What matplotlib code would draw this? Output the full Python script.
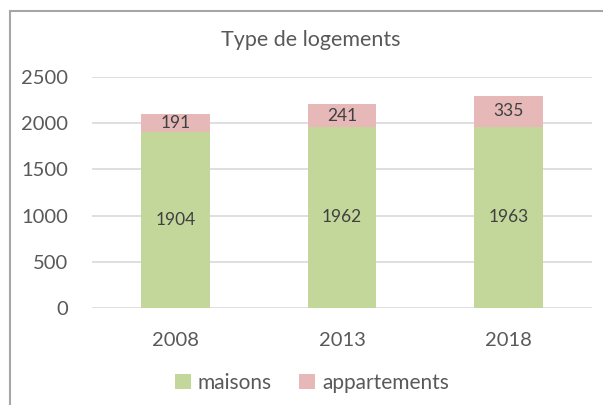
import matplotlib.pyplot as plt
from matplotlib.lines import Line2D
import numpy as np

# données
annees = ['2008', '2013', '2018']
maisons = [1904, 1962, 1963]
appartements = [191, 241, 335]

plt.rcParams['font.family'] = ['Lato', 'DejaVu Sans']

W, H = 603, 405
fig = plt.figure(figsize=(W / 100, H / 100), dpi=100)
ax = fig.add_axes([92 / W, (H - 308) / H, 500 / W, 231 / H])

x = np.arange(len(annees))
vert = '#C4D79B'
rose = '#E6B9B8'
b1 = ax.bar(x, maisons, width=0.41, color=vert, label='maisons', zorder=3)
b2 = ax.bar(x, appartements, width=0.41, bottom=maisons, color=rose,
            label='appartements', zorder=3)

# étiquettes dans les barres
ax.bar_label(b1, labels=[str(v) for v in maisons], label_type='center',
             fontsize=12.5, color='#404040')
ax.bar_label(b2, labels=[str(v) for v in appartements], label_type='center',
             fontsize=12.5, color='#404040')

ax.set_xlim(-0.5, 2.5)
ax.set_ylim(0, 2500)
ax.set_yticks(range(0, 2501, 500))
ax.set_xticks(x)
ax.set_xticklabels(annees)
ax.tick_params(axis='both', length=0, labelsize=14.5, labelcolor='#595959')
ax.tick_params(axis='y', pad=17)
ax.tick_params(axis='x', pad=17)
ax.grid(axis='y', color='#D9D9D9', linewidth=1.2, zorder=0)
for s in ax.spines.values():
    s.set_visible(False)

fig.text(311 / W, 1 - 40 / H, 'Type de logements', ha='center', va='center',
         fontsize=15.5, color='#595959')

leg = fig.legend(handles=[b1, b2], loc='center', bbox_to_anchor=(312 / W, 1 - 383 / H),
                 ncol=2, frameon=False, fontsize=15, labelcolor='#595959',
                 handlelength=0.75, handleheight=0.75, handletextpad=0.35,
                 columnspacing=1.3)

# cadre du graphique (coupé à droite et en bas)
fig.add_artist(Line2D([10 / W, 10 / W], [0, 1 - 11 / H], color='#A6A6A6', linewidth=1.5))
fig.add_artist(Line2D([9.5 / W, 1], [1 - 11 / H, 1 - 11 / H], color='#A6A6A6', linewidth=1.5))

fig.savefig('out.png', dpi=100)
